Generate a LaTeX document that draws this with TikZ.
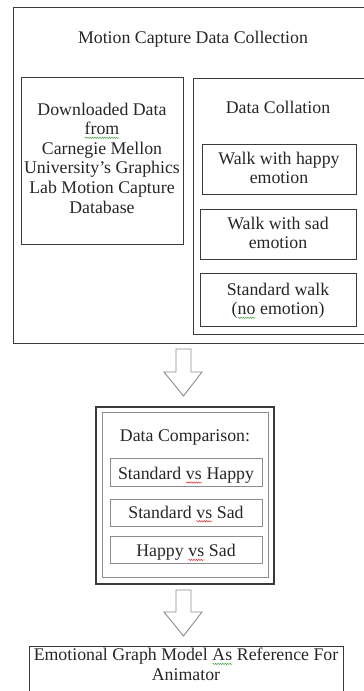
\documentclass[tikz,border=0pt]{standalone}
\usepackage{fontspec}
\setmainfont{Liberation Serif}
\usetikzlibrary{calc,decorations.pathmorphing}
\definecolor{ink}{HTML}{262626}
\definecolor{frame}{HTML}{3A3A3A}
\definecolor{soft}{HTML}{8C8C8C}
\definecolor{spellred}{HTML}{E03030}
\definecolor{spellgreen}{HTML}{4CA84C}
% wavy proofing mark under a word
\newcommand\spellmark[2]{\tikz[baseline=(w.base),x=1pt,y=1pt]{%
  \node[anchor=base, inner sep=0pt, outer sep=0pt, text=ink] (w) {#2};
  \draw[draw=#1, line width=0.5pt, decorate,
        decoration={snake, amplitude=0.7pt, segment length=2.4pt}]
    ([yshift=-3.2pt]w.base west) -- ([yshift=-3.2pt]w.base east);}}
\begin{document}
% multi-line labels are placed by the baseline of their last line
\begin{tikzpicture}[x=1pt,y=-1pt,
  box/.style={draw=frame, line width=0.9pt},
  txt/.style={font=\fontsize{17.8}{19.6}\selectfont, align=center, inner sep=0pt, anchor=base, text=ink},
  blockarrow/.style={draw=soft, line width=0.9pt, fill=white, line join=miter}]
\useasboundingbox (0,0) rectangle (364,691);
\clip (0,0) rectangle (364,691);

% --- collection stage ---
\draw[box] (368,7) -- (13,7) -- (13,343) -- (368,343);
\node[txt] (title) at (193,43) {Motion Capture Data Collection};

\draw[box] (21,77) rectangle (183,244);
\node[txt] (source) at (102,213) {Downloaded Data\\ \spellmark{spellgreen}{from}\\ Carnegie Mellon\\ University's Graphics\\ Lab Motion Capture\\ Database};

\draw[box] (368,78) -- (193,78) -- (193,334) -- (368,334);
\node[txt] (collation) at (278,113) {Data Collation};

\draw[box] (202,144) rectangle (356,194);
\node[txt] (happy) at (279,183.6) {Walk with happy\\ emotion};
\draw[box] (200,209) rectangle (356,259);
\node[txt] (sad) at (278,248.6) {Walk with sad\\ emotion};
\draw[box] (200,273) rectangle (356,326);
\node[txt] (standard) at (278,314.6) {Standard walk\\ (\spellmark{spellgreen}{no} emotion)};

% --- arrow to comparison ---
\coordinate (a1) at (183.5,349);
\draw[blockarrow] ($(a1)+(-7.5,0)$) -- ($(a1)+(7.5,0)$) -- ($(a1)+(7.5,23)$) -- ($(a1)+(18.5,23)$)
  -- ($(a1)+(0,47)$) -- ($(a1)+(-19.5,23)$) -- ($(a1)+(-7.5,23)$) -- cycle;

% --- comparison stage ---
\draw[draw=frame, line width=1.8pt] (96,407) rectangle (274,584);
\draw[draw=soft, line width=0.9pt] (102,412) rectangle (268,577);
\node[txt] (compare) at (185,441.5) {Data Comparison:};
\draw[box, draw=soft] (110,458) rectangle (262,486);
\node[txt] (sh) at (186,479.3) {Standard \spellmark{spellred}{vs} Happy};
\draw[box, draw=soft] (110,499) rectangle (262,526);
\node[txt] (ss) at (186,518) {Standard \spellmark{spellred}{vs} Sad};
\draw[box, draw=soft] (110,536) rectangle (262,563);
\node[txt] (hs) at (186,556.7) {Happy \spellmark{spellred}{vs} Sad};

% --- arrow to result ---
\coordinate (a2) at (183.5,590);
\draw[blockarrow] ($(a2)+(-7.5,0)$) -- ($(a2)+(7.5,0)$) -- ($(a2)+(7.5,22)$) -- ($(a2)+(18.5,22)$)
  -- ($(a2)+(0,46)$) -- ($(a2)+(-19.5,22)$) -- ($(a2)+(-7.5,22)$) -- cycle;

% --- result ---
\draw[box] (29,700) -- (29,646) -- (343,646) -- (343,700);
\node[txt] (result) at (186,680.3) {Emotional Graph Model \spellmark{spellgreen}{As} Reference For\\ Animator};
\end{tikzpicture}
\end{document}
